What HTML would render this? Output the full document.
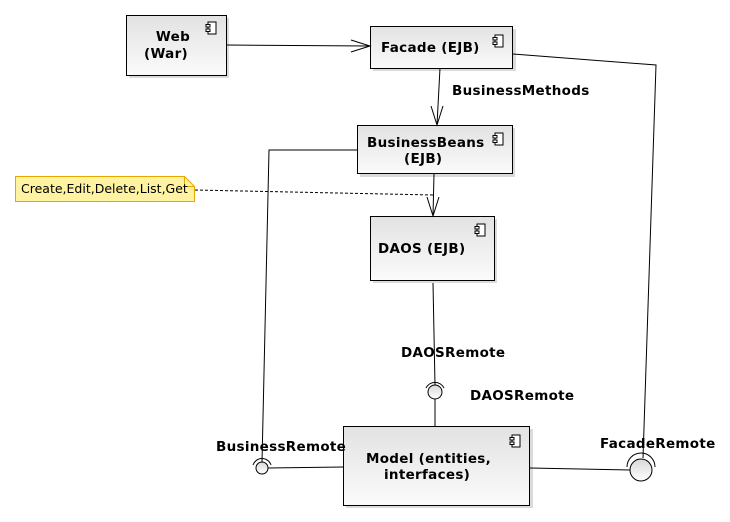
<!DOCTYPE html>
<html><head><meta charset="utf-8"><style>
html,body{margin:0;padding:0;background:#fff;}
svg{display:block;}
text{font-family:"DejaVu Sans","Liberation Sans",sans-serif;font-weight:bold;font-size:13.5px;letter-spacing:0.3px;fill:#000;}
.n{font-weight:normal;font-size:12.5px;letter-spacing:0;}
</style></head><body>
<svg width="730" height="522" viewBox="0 0 730 522" xmlns="http://www.w3.org/2000/svg">
<defs>
<linearGradient id="g" x1="0" y1="0" x2="0" y2="1">
<stop offset="0" stop-color="#e2e2e2"/><stop offset="1" stop-color="#fbfbfb"/>
</linearGradient>
<linearGradient id="c" x1="0" y1="0" x2="0" y2="1">
<stop offset="0" stop-color="#d8d8d8"/><stop offset="1" stop-color="#ffffff"/>
</linearGradient>
<g id="ic"><rect x="2" y="0" width="8" height="12" fill="#fff" stroke="#000"/><rect x="0" y="2.5" width="4" height="2.5" fill="#fff" stroke="#000"/><rect x="0" y="7" width="4" height="2.5" fill="#fff" stroke="#000"/></g>
</defs>
<g fill="#ccc" opacity="0.7">
<rect x="129" y="18" width="100" height="60"/>
<rect x="373" y="29" width="143" height="42"/>
<rect x="360" y="128" width="155" height="49"/>
<rect x="373" y="219" width="124" height="64"/>
<rect x="346" y="429" width="187" height="79"/>
</g>
<rect x="126.5" y="15.5" width="100" height="60" fill="url(#g)" stroke="#000"/>
<use href="#ic" x="206" y="22"/>
<text x="173" y="41" text-anchor="middle">Web</text>
<text x="166" y="58" text-anchor="middle">(War)</text>

<rect x="370.5" y="26.5" width="142" height="42" fill="url(#g)" stroke="#000"/>
<use href="#ic" x="493" y="35"/>
<text x="381" y="52">Facade (EJB)</text>

<rect x="357.5" y="125.5" width="155" height="48" fill="url(#g)" stroke="#000"/>
<use href="#ic" x="493" y="133"/>
<text x="367" y="147">BusinessBeans</text>
<text x="404" y="163">(EJB)</text>

<rect x="370.5" y="216.5" width="124" height="64" fill="url(#g)" stroke="#000"/>
<use href="#ic" x="475" y="224"/>
<text x="378" y="253">DAOS (EJB)</text>

<rect x="343.5" y="426.5" width="186" height="79" fill="url(#g)" stroke="#000"/>
<use href="#ic" x="510" y="435"/>
<text x="366" y="463">Model (entities,</text>
<text x="384" y="479">interfaces)</text>

<path d="M15.5 176.5 H184.5 L194.5 186.5 V201.5 H15.5 Z" fill="#fff2a0" stroke="#e8a800"/>
<path d="M184.5 176.5 V186.5 H194.5" fill="none" stroke="#e8a800"/>
<text class="n" x="21" y="193">Create,Edit,Delete,List,Get</text>

<g fill="none" stroke="#000" stroke-width="1">
<path d="M226 45 L370 46"/>
<path d="M351 40 L370 46 L351 52"/>
<path d="M440 68 L437 125"/>
<path d="M431 106 L437 125 L443 106"/>
<path d="M434 174 L433 216"/>
<path d="M427 197 L433 216 L439 197"/>
<path d="M195 190 L433 195" stroke-dasharray="3,2"/>
<path d="M357 150 L269 150 L262 462"/>
<path d="M513 54 L656 65 L643 458"/>
<path d="M530 468 L630 470"/>
<path d="M343 467 L268 468"/>
<path d="M433 283 L435 385"/>
<path d="M435 399 L435 426"/>
</g>
<circle cx="435" cy="392" r="7" fill="url(#c)" stroke="#000"/>
<path d="M426 388 A10 10 0 0 1 444 388" fill="none" stroke="#000"/>
<circle cx="262" cy="468" r="6" fill="url(#c)" stroke="#000"/>
<path d="M253 465 A9.5 9.5 0 0 1 271 465" fill="none" stroke="#000"/>
<circle cx="641" cy="470" r="11" fill="url(#c)" stroke="#000"/>
<path d="M627 467 A14 14 0 0 1 655 467" fill="none" stroke="#000"/>

<text x="452" y="95">BusinessMethods</text>
<text x="401" y="357">DAOSRemote</text>
<text x="470" y="400">DAOSRemote</text>
<text x="216" y="451">BusinessRemote</text>
<text x="600" y="448">FacadeRemote</text>
</svg>
</body></html>
